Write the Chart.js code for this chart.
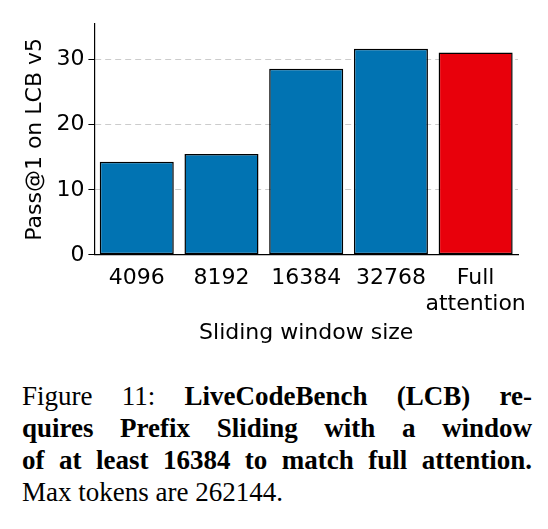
<!DOCTYPE html>
<html>
<head>
<meta charset="utf-8">
<script src="https://cdn.jsdelivr.net/npm/chart.js@4/dist/chart.umd.min.js"></script>
<style>
  body { margin:0; background:#fff; width:548px; height:529px; overflow:hidden; }
  #wrap { position:absolute; left:0; top:0; width:548px; height:350px; }
  #cap { position:absolute; left:22px; top:380px; width:510px; font-family:"Liberation Serif",serif; font-size:27px; line-height:32px; color:#000; }
  #cap div { text-align:justify; text-align-last:justify; white-space:nowrap; }
  #cap div.last { text-align-last:left; }
</style>
</head>
<body>
<div id="wrap"><canvas id="c"></canvas></div>
<div id="cap">
  <div>Figure 11: <b>LiveCodeBench (LCB) re-</b></div>
  <div><b>quires Prefix Sliding with a window</b></div>
  <div><b>of at least 16384 to match full attention.</b></div>
  <div class="last">Max tokens are 262144.</div>
</div>
<script>
  // data
  const categories = ['4096', '8192', '16384', '32768', ['Full', 'attention']];
  const passAt1 = [14.3, 15.5, 28.6, 31.7, 31.1];
  const barColors = ['#0173b2', '#0173b2', '#0173b2', '#0173b2', '#e8000b'];
  const yTicks = [0, 10, 20, 30];

  const font = { family: 'DejaVu Sans', size: 22 };
  new Chart(document.getElementById('c'), {
    type: 'bar',
    data: {
      labels: categories,
      datasets: [{
        data: passAt1,
        backgroundColor: barColors,
        borderColor: '#000',
        borderWidth: 1.5,
        borderSkipped: false,
        categoryPercentage: 0.92,
        barPercentage: 0.95
      }]
    },
    options: {
      responsive: true,
      maintainAspectRatio: false,
      animation: false,
      layout: { padding: { top: 24, right: 30, left: 18 } },
      plugins: { legend: { display: false }, tooltip: { enabled: false } },
      scales: {
        x: {
          grid: { display: false, drawTicks: true },
          border: { color: '#000', width: 1.2 },
          ticks: { color: '#000', font, maxRotation: 0, autoSkip: false, padding: 2 },
          title: { display: true, text: 'Sliding window size', color: '#000', font, padding: { top: 0 } }
        },
        y: {
          min: 0, max: 35.5,
          afterBuildTicks: ax => { ax.ticks = yTicks.map(v => ({ value: v })); },
          grid: { color: '#cccccc', lineWidth: 1, tickColor: '#000', tickLength: 6 },
          border: { color: '#000', width: 1.2, dash: [6, 4] },
          ticks: { color: '#000', font, padding: 4 },
          title: { display: true, text: 'Pass@1 on LCB v5', color: '#000', font }
        }
      }
    }
  });
</script>
</body>
</html>
